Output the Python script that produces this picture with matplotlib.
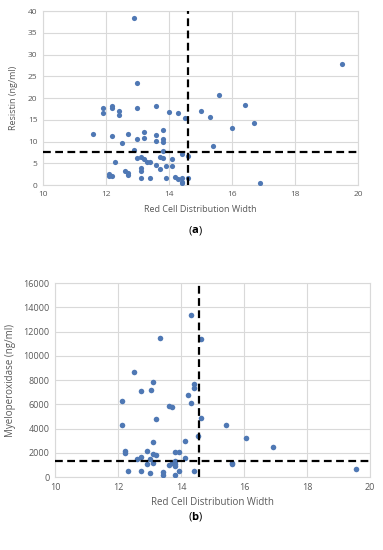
import numpy as np
import matplotlib.pyplot as plt

plt.rcParams['font.family'] = ['Open Sans', 'DejaVu Sans']

# (a) Resistin vs RDW
rdw_a = [12.9, 19.5, 13.0, 15.6, 16.4, 12.2, 12.2, 11.9, 11.9, 13.0, 13.6, 12.4, 12.4,
         14.0, 14.3, 14.5, 15.0, 15.3, 16.0, 16.7, 11.6, 12.2, 12.7, 12.5, 13.0, 13.2,
         13.2, 13.6, 13.6, 13.8, 13.8, 13.8, 15.4, 12.9, 13.8, 13.0, 13.1, 13.2, 13.3,
         13.4, 13.7, 13.8, 14.4, 14.6, 12.3, 13.1, 13.1, 13.6, 13.7, 13.9, 14.1, 14.1,
         12.6, 12.7, 12.7, 12.1, 12.2, 12.1, 13.1, 13.4, 13.9, 14.2, 14.3, 14.4, 14.4,
         14.4, 14.6, 16.9]
resistin = [38.5, 27.8, 23.4, 20.6, 18.4, 18.1, 17.7, 17.7, 16.6, 17.8, 18.1, 17.0, 16.1,
            16.8, 16.6, 15.5, 17.1, 15.7, 13.2, 14.2, 11.8, 11.2, 11.8, 9.6, 10.6, 12.2,
            10.9, 11.5, 10.2, 12.7, 10.5, 9.9, 8.9, 8.1, 7.9, 6.2, 6.5, 5.9, 5.4,
            5.4, 6.4, 6.1, 7.1, 6.6, 5.2, 3.8, 3.3, 4.5, 3.6, 4.3, 5.9, 4.3,
            3.3, 2.8, 2.4, 2.6, 2.1, 2.1, 1.7, 1.7, 1.7, 1.8, 1.3, 1.7, 0.8,
            0.5, 1.5, 0.5]
cut_rdw_a = 14.6
cut_resistin = 7.6

# (b) Myeloperoxidase vs RDW
rdw_b = [14.32, 13.33, 14.63, 12.52, 13.12, 12.72, 13.04, 14.42, 14.42, 14.23, 14.32,
         12.13, 13.62, 13.72, 13.22, 14.62, 12.13, 15.43, 16.05, 16.93, 14.53, 14.13,
         13.12, 12.22, 12.22, 12.92, 13.82, 13.93, 13.10, 13.20, 14.13, 12.72, 12.61,
         13.02, 12.92, 13.12, 13.62, 13.72, 13.82, 13.82, 13.82, 15.63, 15.63, 12.32,
         12.72, 13.03, 13.43, 13.43, 13.82, 13.93, 14.42, 19.55]
mpo = [13390, 11460, 11410, 8660, 7810, 7070, 7200, 7700, 7340, 6740, 6100,
       6270, 5860, 5750, 4810, 4870, 4290, 4320, 3190, 2470, 3350, 3000,
       2910, 2170, 2010, 2170, 2090, 2030, 1900, 1840, 1570, 1650, 1480,
       1510, 1070, 1130, 960, 1150, 1290, 1100, 910, 1180, 1070, 495,
       520, 330, 385, 190, 140, 520, 520, 660]
cut_rdw_b = 14.57
cut_mpo = 1350

dot = '#4F78B4'
grid = '#D9D9D9'
txt = '#595959'

fig = plt.figure(figsize=(3.83, 5.5), dpi=100)

def style(ax):
    ax.grid(True, color=grid, linewidth=0.8)
    ax.set_axisbelow(True)
    for s in ax.spines.values():
        s.set_color(grid)
        s.set_linewidth(0.8)
    ax.tick_params(length=0, labelsize=6, colors=txt, pad=4)

ax1 = fig.add_axes([0.112, 0.6636, 0.823, 0.3164])
ax1.scatter(rdw_a, resistin, s=14, color=dot, zorder=3, linewidths=0)
ax1.axvline(cut_rdw_a, color='black', linestyle=(0, (3.5, 2)), linewidth=1.6, zorder=4)
ax1.axhline(cut_resistin, color='black', linestyle=(0, (3.5, 2)), linewidth=1.6, zorder=4)
ax1.set_xlim(10, 20)
ax1.set_ylim(0, 40)
ax1.set_xticks(np.arange(10, 21, 2))
ax1.set_yticks(np.arange(0, 41, 5))
style(ax1)
ax1.set_xlabel('Red Cell Distribution Width', fontsize=6.5, color=txt, labelpad=5)
ax1.set_ylabel('Resistin (ng/ml)', fontsize=6.5, color=txt, labelpad=7)
fig.text(0.5, 1 - 231 / 550, '(', fontsize=8, ha='right', va='center')
fig.text(0.5, 1 - 231 / 550, 'a', fontsize=8, ha='left', va='center', fontweight='bold')
fig.text(0.5 + 0.018, 1 - 231 / 550, ')', fontsize=8, ha='left', va='center')

ax2 = fig.add_axes([0.1436, 0.1327, 0.8225, 0.3527])
ax2.scatter(rdw_b, mpo, s=16, color=dot, zorder=3, linewidths=0)
ax2.axvline(cut_rdw_b, color='black', linestyle=(0, (3.5, 2)), linewidth=1.6, zorder=4)
ax2.axhline(cut_mpo, color='black', linestyle=(0, (3.5, 2)), linewidth=1.6, zorder=4)
ax2.set_xlim(10, 20)
ax2.set_ylim(0, 16000)
ax2.set_xticks(np.arange(10, 21, 2))
ax2.set_yticks(np.arange(0, 16001, 2000))
style(ax2)
ax2.tick_params(labelsize=6.5)
ax2.set_xlabel('Red Cell Distribution Width', fontsize=7, color=txt, labelpad=4)
ax2.set_ylabel('Myeloperoxidase (ng/ml)', fontsize=7, color=txt, labelpad=5)
fig.text(0.5, 1 - 517 / 550, '(', fontsize=8, ha='right', va='center')
fig.text(0.5, 1 - 517 / 550, 'b', fontsize=8, ha='left', va='center', fontweight='bold')
fig.text(0.5 + 0.018, 1 - 517 / 550, ')', fontsize=8, ha='left', va='center')

fig.savefig('out.png', dpi=100)
